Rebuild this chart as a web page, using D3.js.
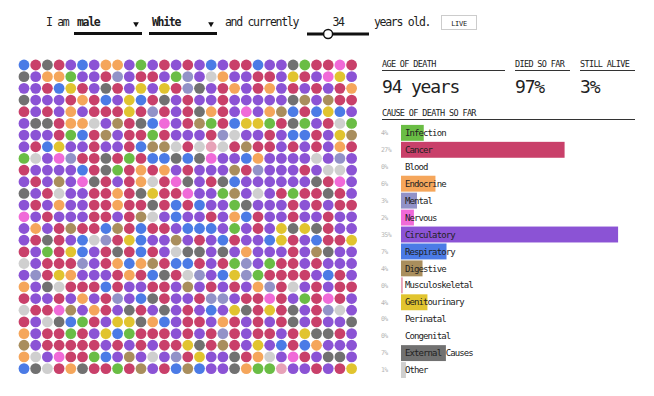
<!DOCTYPE html>
<html>
<head>
<meta charset="utf-8">
<script src="https://cdn.jsdelivr.net/npm/d3@7"></script>
<style>
  body { margin: 0; background: #fff; }
  text { font-family: "DejaVu Sans Mono", "Liberation Mono", monospace; fill: #222; }
</style>
</head>
<body>
<div id="wrapper"></div>
<script>
// causes of death, share of deaths so far (%)
const causes = ["Infection", "Cancer", "Blood", "Endocrine", "Mental", "Nervous",
  "Circulatory", "Respiratory", "Digestive", "Musculoskeletal", "Genitourinary",
  "Perinatal", "Congenital", "External Causes", "Other"]
const causeShares = [3.7, 26.6, 0, 5.6, 2.6, 2.1, 35.3, 7.4, 3.5, 0.3, 4.3, 0, 0, 7.3, 0.8]
const causeColors = ["#6abd45", "#c9406a", "#b03050", "#f5a65b", "#9292c8", "#f06ad8",
  "#8b53d5", "#4b7be6", "#a98e5d", "#e7a2b8", "#e1c42f", "#888", "#888", "#717171", "#cfcfcf"]
// letter used for each cause in the grid rows
const causeCodes = ["G", "C", "R", "O", "M", "N", "P", "B", "K", "H", "Y", "I", "J", "X", "L"]

// one string per row of people, one letter per dot
const gridRows = [
  "BCXCPBPOOPGPCPCPBPCCBPPXGCCNC",
  "XPOOGPPCMPCCPGMPLOPPCCPYCPNYP",
  "PPCBYCPXCPYPYCMXPCOPCOPCPCPCO",
  "XPPPCOCBPYBCXPCPPCPPPPPXKPKCC",
  "CPCPOPCCCYCMCPCXOCPNPOKBCBYBP",
  "PXXCOOLPKCXBNPCKGCBYYGCXGPCLG",
  "PPPCGBCKPCCGCPPPCMLPPCPBBCPYK",
  "PCBYPPCPPCBKKLCLHLCKCCPCPCPOC",
  "GLPNMCCXCGCBBXBXNPPBOPPPPLPMP",
  "CPPPPBCXGCOCOPCPPPKCMPPPCPLLP",
  "PCPKPNXCPCOLCNXPCXBPPPPPPXCNP",
  "XPCLPPCCOCXYCCNPPGKPLPCGCCXCP",
  "PCPOPPCCOCCXCBCBPPGXPPPCPCPCC",
  "NPCPPPCCPCKLPBPPCPOBCPPCPPCPP",
  "POPCKCCBKCBCCPBBBPGPCPYXYXCPP",
  "PCXCPBLMCYBPPKPCPBCPPBYCPBCCY",
  "CPGCYBPCXCBCPLXXPXPOPPPCPKXPP",
  "LPCCCMPCOBOKCBBCPCGMPGCCPCPPP",
  "PMCYOPPPCOCBXCLMPBYMGCCCCPBCP",
  "OPXLCCCBCPPCCPKPCPCPOMCLPCPCC",
  "CPPCPOPCMPBXCPPCMMPCCNCPGCNCP",
  "LCCNKPOCPXCPXPCPBPYXCYCXPCMLP",
  "CPLXBGCPYYXOBPCCPOCPCPCXPCPPX",
  "OPCCGCPYBGCCCPCPCMCPCCPCYXXCP",
  "KPCCCCCPCPCPCCYXCKCPYPBCBOPPP",
  "OLPNCCGBPKPLPMCYPPXCOLPNCPXXP",
  "BXLCOXCCGCKPCBKBPPXOGGHPPCPCY",
]

const sexOption = "male"
const raceOption = "White"
const currentAge = 34
const ageRange = [0, 100]
const ageOfDeath = 94
const diedSoFar = 97
const stillAlive = 3

async function drawChart() {

  const dimensions = {
    width: 654,
    height: 396,
  }

  const wrapper = d3.select("#wrapper")
    .append("svg")
      .attr("width", dimensions.width)
      .attr("height", dimensions.height)

  // 1. header sentence
  const header = wrapper.append("g")
  const sentence = (x, txt) => header.append("text")
      .attr("x", x)
      .attr("y", 26)
      .style("font-size", "11.5px")
      .style("letter-spacing", "-1.3px")
      .text(txt)

  sentence(46, "I am")
  const dropdown = (x, w, txt) => {
    header.append("text")
        .attr("x", x + 3)
        .attr("y", 26)
        .style("font-size", "11.5px")
        .style("font-weight", "bold")
        .style("letter-spacing", "-1.3px")
        .text(txt)
    header.append("path")
        .attr("d", d3.symbol(d3.symbolTriangle, 14)())
        .attr("transform", `translate(${x + w - 6},24) rotate(180)`)
        .attr("fill", "#111")
    header.append("rect")
        .attr("x", x)
        .attr("y", 32)
        .attr("width", w)
        .attr("height", 3)
        .attr("fill", "#111")
  }
  dropdown(74, 68, sexOption)
  dropdown(149, 68, raceOption)
  sentence(225, "and currently")

  const ageScale = d3.scaleLinear()
      .domain(ageRange)
      .range([307, 369])
  header.append("line")
      .attr("x1", ageScale.range()[0])
      .attr("x2", ageScale.range()[1])
      .attr("y1", 34)
      .attr("y2", 34)
      .attr("stroke", "#111")
      .attr("stroke-width", 3)
  header.append("circle")
      .attr("cx", ageScale(currentAge))
      .attr("cy", 34)
      .attr("r", 4.5)
      .attr("fill", "#fff")
      .attr("stroke", "#111")
      .attr("stroke-width", 1.5)
  header.append("text")
      .attr("x", d3.mean(ageScale.range()))
      .attr("y", 26)
      .attr("text-anchor", "middle")
      .style("font-size", "11.5px")
      .style("letter-spacing", "-1.3px")
      .text(currentAge)
  sentence(374, "years old.")

  header.append("rect")
      .attr("x", 441.5)
      .attr("y", 15.5)
      .attr("width", 35)
      .attr("height", 14)
      .attr("fill", "#fff")
      .attr("stroke", "#ccc")
  header.append("text")
      .attr("x", 459)
      .attr("y", 25.5)
      .attr("text-anchor", "middle")
      .style("font-size", "7px")
      .style("letter-spacing", "-0.3px")
      .text("LIVE")

  // 2. grid of people
  const people = gridRows.flatMap((row, r) =>
    row.split("").map((code, c) => ({row: r, col: c, cause: causeCodes.indexOf(code)})))

  const xGrid = d3.scalePoint()
      .domain(d3.range(gridRows[0].length))
      .range([24, 351.6])
  const yGrid = d3.scalePoint()
      .domain(d3.range(gridRows.length))
      .range([65, 368.6])

  wrapper.append("g")
    .selectAll("circle")
    .data(people)
    .join("circle")
      .attr("cx", d => xGrid(d.col))
      .attr("cy", d => yGrid(d.row))
      .attr("r", 5.4)
      .attr("fill", d => causeColors[d.cause])

  // 3. stats panel
  const panel = wrapper.append("g")
  const stat = (x, w, title, value) => {
    panel.append("text")
        .attr("x", x)
        .attr("y", 66.5)
        .style("font-size", "8.5px")
        .style("letter-spacing", "-0.65px")
        .text(title)
    panel.append("line")
        .attr("x1", x)
        .attr("x2", x + w)
        .attr("y1", 70.5)
        .attr("y2", 70.5)
        .attr("stroke", "#333")
        .attr("stroke-width", 1.2)
    panel.append("text")
        .attr("x", x)
        .attr("y", 92.7)
        .style("font-size", "18px")
        .style("letter-spacing", "-1.2px")
        .text(value)
  }
  stat(382, 123, "AGE OF DEATH", `${ageOfDeath} years`)
  stat(515, 55, "DIED SO FAR", `${diedSoFar}%`)
  stat(580, 55, "STILL ALIVE", `${stillAlive}%`)

  panel.append("text")
      .attr("x", 382)
      .attr("y", 116)
      .style("font-size", "8.5px")
      .style("letter-spacing", "-0.65px")
      .text("CAUSE OF DEATH SO FAR")
  panel.append("line")
      .attr("x1", 382)
      .attr("x2", 635)
      .attr("y1", 119.5)
      .attr("y2", 119.5)
      .attr("stroke", "#333")
      .attr("stroke-width", 1.2)

  // 4. cause bars
  const yScale = d3.scaleBand()
      .domain(causes)
      .range([124.9, 378])
      .paddingInner(0.06)
  const xScale = d3.scaleLinear()
      .domain([0, 40])
      .range([401, 647])

  const rows = panel.append("g")
    .selectAll("g")
    .data(causes)
    .join("g")
      .attr("transform", d => `translate(0,${yScale(d)})`)

  rows.append("rect")
      .attr("x", xScale(0))
      .attr("width", (d, i) => xScale(causeShares[i]) - xScale(0))
      .attr("height", yScale.bandwidth())
      .attr("fill", (d, i) => causeColors[i])
  rows.append("text")
      .attr("x", 381)
      .attr("y", yScale.bandwidth() / 2)
      .attr("dy", "0.35em")
      .style("font-size", "6.5px")
      .style("fill", "#b5b5b5")
      .style("letter-spacing", "-0.6px")
      .text((d, i) => `${Math.round(causeShares[i])}%`)
  rows.append("text")
      .attr("x", 405)
      .attr("y", yScale.bandwidth() / 2)
      .attr("dy", "0.35em")
      .style("font-size", "9px")
      .style("letter-spacing", "-0.9px")
      .text(d => d)
}

drawChart()
</script>
</body>
</html>
